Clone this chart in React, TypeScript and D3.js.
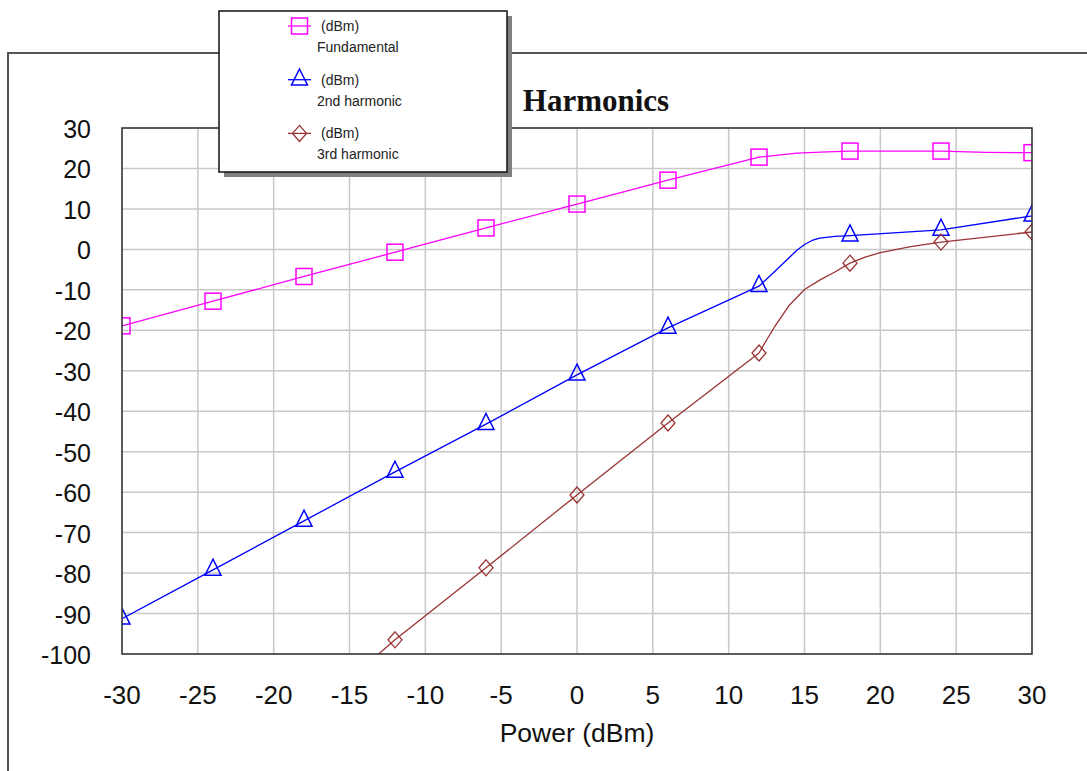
import React from 'react'
import * as d3 from 'd3'

// input power sweep where markers are drawn (dBm)
const markerPower = [-30, -24, -18, -12, -6, 0, 6, 12, 18, 24, 30]

// Fundamental (dBm)
const fundPower = [-30, -24, -18, -12, -6, 0, 6, 12, 14.5, 16.5, 18, 24, 27, 30]
const fundValues = [-18.9, -12.8, -6.7, -0.7, 5.3, 11.2, 17.1, 22.8, 23.8, 24.1, 24.3, 24.3, 24.0, 23.9]

// 2nd harmonic (dBm)
const h2Power = [-30, -24, -18, -12, -6, 0, 6, 12, 13, 14, 14.5, 15, 15.5, 16, 17, 18, 24, 30]
const h2Values = [-91.3, -79.2, -67.1, -55.0, -43.2, -31.0, -19.4, -9.1, -5.6, -2.0, -0.2, 1.2, 2.2, 2.8, 3.2, 3.4, 4.8, 8.3]

// 3rd harmonic (dBm)
const h3Power = [-18, -12, -6, 0, 6, 12, 12.5, 13, 14, 15, 16, 17, 18, 19, 20, 22, 24, 30]
const h3Values = [-116, -96.5, -78.7, -60.7, -42.9, -25.6, -22.4, -19.3, -13.8, -9.9, -7.6, -5.6, -3.4, -1.9, -0.8, 0.7, 1.8, 4.3]

const xTicks = [-30, -25, -20, -15, -10, -5, 0, 5, 10, 15, 20, 25, 30]
const yTicks = [30, 20, 10, 0, -10, -20, -30, -40, -50, -60, -70, -80, -90, -100]

const series = [
	{name: 'Fundamental', unit: '(dBm)', x: fundPower, y: fundValues, color: '#ff00ff', marker: 'square'},
	{name: '2nd harmonic', unit: '(dBm)', x: h2Power, y: h2Values, color: '#0000ff', marker: 'triangle'},
	{name: '3rd harmonic', unit: '(dBm)', x: h3Power, y: h3Values, color: '#993333', marker: 'diamond'},
]

const W = 1087
const H = 771
const plot = {left: 122, right: 1032, top: 128, bottom: 654}

const xScale = d3.scaleLinear().domain([-30, 30]).range([plot.left, plot.right])
const yScale = d3.scaleLinear().domain([-100, 30]).range([plot.bottom, plot.top])

function Marker({type, x, y, color}: {type: string, x: number, y: number, color: string}){
	if(type === 'square'){
		return <rect x={x - 8} y={y - 8} width={16} height={16} fill='none' stroke={color} strokeWidth={1.5}/>
	}
	if(type === 'triangle'){
		return <path d={`M${x},${y - 10.7} L${x + 8},${y + 5.3} L${x - 8},${y + 5.3} Z`} fill='none' stroke={color} strokeWidth={1.5}/>
	}
	return <path d={`M${x},${y - 8} L${x + 7},${y} L${x},${y + 8} L${x - 7},${y} Z`} fill='none' stroke={color} strokeWidth={1.3}/>
}

export default function App(){
	const lineGen = d3.line<[number, number]>()
		.x(d => xScale(d[0]))
		.y(d => yScale(d[1]))
		.curve(d3.curveLinear)

	const legendX = 219
	const legendY = 11
	const legendW = 288
	const legendH = 161

	return (
		<svg width={W} height={H} style={{position: 'absolute', left: 0, top: 0, background: '#fff'}}
			fontFamily='"Liberation Sans", Arial, sans-serif'>
			<defs>
				<clipPath id='plotClip'>
					<rect x={plot.left} y={plot.top} width={plot.right - plot.left} height={plot.bottom - plot.top}/>
				</clipPath>
			</defs>
			{/* outer frame */}
			<path d={`M8,${H} V53 H${W}`} fill='none' stroke='#555' strokeWidth={2}/>

			<text x={596} y={111} textAnchor='middle' fontFamily='"Liberation Serif", "Times New Roman", serif'
				fontWeight='bold' fontSize={31} fill='#111'>Harmonics</text>

			{/* grid */}
			<g stroke='#c8c8c8' strokeWidth={1.5}>
				{xTicks.map(t => <line key={'gx' + t} x1={xScale(t)} x2={xScale(t)} y1={plot.top} y2={plot.bottom}/>)}
				{yTicks.map(t => <line key={'gy' + t} x1={plot.left} x2={plot.right} y1={yScale(t)} y2={yScale(t)}/>)}
			</g>

			<g clipPath='url(#plotClip)'>
				{series.map(s => {
					const pts: [number, number][] = s.x.map((v, i) => [v, s.y[i]])
					return (
						<g key={s.name}>
							<path d={lineGen(pts) || ''} fill='none' stroke={s.color} strokeWidth={1.3} strokeLinejoin='round'/>
							{pts.filter(p => markerPower.indexOf(p[0]) >= 0).map(p =>
								<Marker key={p[0]} type={s.marker} x={xScale(p[0])} y={yScale(p[1])} color={s.color}/>
							)}
						</g>
					)
				})}
			</g>

			<rect x={plot.left} y={plot.top} width={plot.right - plot.left} height={plot.bottom - plot.top}
				fill='none' stroke='#333' strokeWidth={1.5}/>

			{/* axis labels */}
			<g fill='#111'>
				{yTicks.map(t => <text key={'ty' + t} x={91} y={yScale(t) + 10} textAnchor='end' fontSize={25}>{t}</text>)}
				{xTicks.map(t => <text key={'tx' + t} x={xScale(t)} y={704} textAnchor='middle' fontSize={26}>{t}</text>)}
				<text x={577} y={742} textAnchor='middle' fontSize={26.5}>Power (dBm)</text>
			</g>

			{/* legend */}
			<rect x={legendX + 5} y={legendY + 5} width={legendW} height={legendH} fill='#808080'/>
			<rect x={legendX} y={legendY} width={legendW} height={legendH} fill='#fff' stroke='#111' strokeWidth={1.5}/>
			{series.map((s, i) => {
				const cy = 26 + i * 53.7
				return (
					<g key={'lg' + s.name}>
						<line x1={288} x2={311} y1={cy} y2={cy} stroke={s.color} strokeWidth={1.3}/>
						<Marker type={s.marker} x={299.5} y={cy} color={s.color}/>
						<text x={321} y={cy + 5} fontSize={14} fill='#222'>{s.unit}</text>
						<text x={317} y={cy + 26} fontSize={14} fill='#222'>{s.name}</text>
					</g>
				)
			})}
		</svg>
	)
}
